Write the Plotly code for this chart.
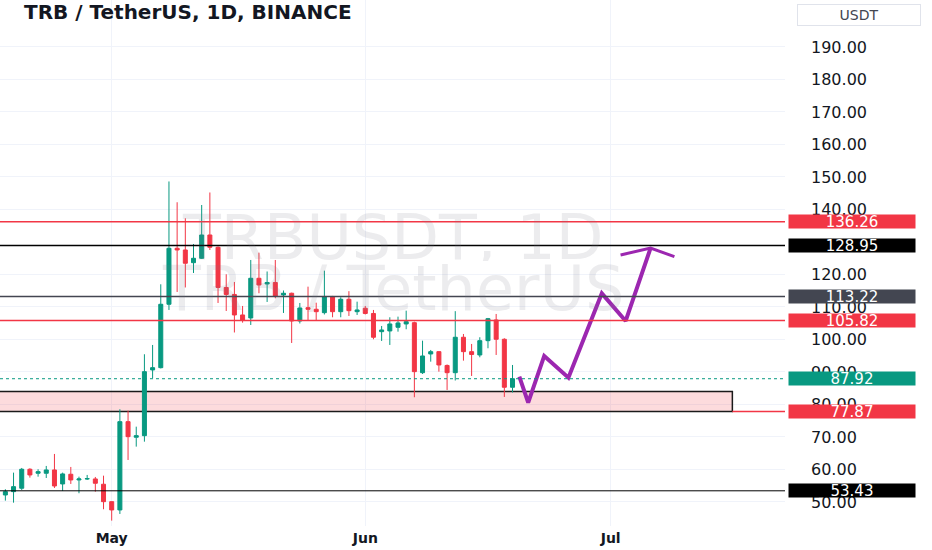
import pandas as pd
import plotly.graph_objects as go

# ---- data ----
dates = pd.date_range("2024-04-18", periods=63, freq="D")
opens = [52.15, 53.17, 54.22, 60.06, 58.83, 58.83, 59.85, 55.54, 58.52, 56.77,
         57.08, 57.08, 55.45, 50.09, 47.54, 74.71, 69.91, 70.40, 90.62, 91.32,
         110.83, 128.06, 127.54, 123.63, 124.98, 132.15, 128.37, 116.00, 113.85, 107.54,
         106.62, 118.83, 117.08, 117.54, 113.69, 114.22, 105.69, 109.78, 109.29, 108.25,
         113.23, 108.55, 112.37, 108.55, 109.60, 108.00, 102.40, 102.62, 103.75, 104.77,
         105.17, 89.78, 95.54, 96.25, 92.00, 89.78, 100.68, 96.25, 95.23, 99.63,
         106.00, 100.06, 85.29]
highs = [53.91, 59.02, 60.46, 60.37, 60.06, 61.08, 64.77, 59.02, 60.77, 57.78,
         58.31, 57.69, 58.09, 50.15, 78.52, 78.09, 73.17, 95.45, 98.31, 116.98,
         148.62, 142.22, 137.29, 129.38, 141.38, 145.23, 128.62, 120.06, 117.69, 110.31,
         124.46, 126.71, 120.92, 124.46, 115.08, 114.40, 111.23, 116.25, 111.32, 121.17,
         113.40, 112.98, 114.86, 111.63, 110.31, 109.08, 104.15, 106.83, 107.02, 108.86,
         105.48, 99.63, 96.77, 96.37, 92.31, 108.71, 101.69, 98.62, 100.68, 106.62,
         107.85, 100.37, 92.15]
lows = [50.40, 49.78, 53.69, 57.48, 57.78, 57.38, 54.31, 53.38, 55.54, 52.68,
        56.77, 53.17, 47.75, 44.25, 46.31, 62.92, 67.02, 68.55, 88.06, 91.08,
        109.08, 114.62, 116.00, 120.46, 124.77, 127.54, 111.23, 108.77, 102.15, 105.17,
        104.46, 114.22, 111.54, 112.68, 108.15, 98.92, 104.92, 106.00, 106.00, 107.69,
        106.83, 106.83, 107.23, 107.54, 107.69, 100.06, 99.54, 98.31, 102.40, 103.14,
        82.22, 89.38, 93.17, 90.09, 84.46, 87.38, 93.48, 88.77, 94.52, 97.29,
        95.23, 82.31, 83.69]
closes = [53.17, 54.71, 60.06, 58.31, 59.32, 59.85, 54.92, 58.62, 56.77, 57.08,
          57.17, 55.75, 50.09, 47.54, 74.71, 70.09, 70.40, 90.09, 91.32, 110.83,
          128.06, 127.54, 123.45, 124.98, 132.15, 128.37, 116.00, 113.85, 107.54, 106.00,
          118.83, 116.77, 117.54, 113.38, 114.22, 105.69, 109.69, 109.29, 108.55, 113.23,
          108.55, 112.37, 108.86, 109.08, 108.00, 100.68, 102.92, 104.77, 105.08, 105.48,
          90.09, 94.92, 96.25, 92.15, 89.78, 100.68, 96.25, 95.38, 99.63, 106.40,
          100.06, 85.29, 87.92]

# horizontal levels: value, line colour, label colour
levels = [136.26, 128.95, 113.22, 105.82, 53.43]
level_colors = ["#F23645", "#000000", "#434651", "#F23645", "#000000"]
last_price = 87.92
zone_low, zone_high = 77.87, 84.0
zone_start, zone_end = "2024-04-10", "2024-07-15 21:00"

# projected path drawing
path_x = ["2024-06-19 20:00", "2024-06-20 22:00", "2024-06-22 21:00", "2024-06-25 20:00",
          "2024-06-29 22:00", "2024-07-02 20:00", "2024-07-05 21:00"]
path_y = [88.55, 80.55, 94.92, 88.25, 114.2, 105.7, 128.1]
arrow_x = ["2024-07-02 05:00", "2024-07-05 21:00", "2024-07-08 19:00"]
arrow_y = [126.0, 128.1, 125.5]

# price-scale ticks (130.00 is hidden behind the 128.95 label in the reference)
y_ticks = [50, 60, 70, 80, 90, 100, 110, 120, 140, 150, 160, 170, 180, 190]

GREEN = "#089981"
RED = "#F23645"
TXT = "#131722"
FONT = "DejaVu Sans"
WM = "rgba(120,123,134,0.14)"

fig = go.Figure()
fig.add_trace(go.Candlestick(
    x=dates, open=opens, high=highs, low=lows, close=closes,
    increasing=dict(line=dict(color=GREEN, width=1), fillcolor=GREEN),
    decreasing=dict(line=dict(color=RED, width=1), fillcolor=RED),
    whiskerwidth=0, showlegend=False, hoverinfo="skip"))
fig.add_trace(go.Scatter(x=path_x, y=path_y, mode="lines",
                         line=dict(color="#9C27B0", width=4), showlegend=False, hoverinfo="skip"))
fig.add_trace(go.Scatter(x=arrow_x, y=arrow_y, mode="lines",
                         line=dict(color="#9C27B0", width=3), showlegend=False, hoverinfo="skip"))

shapes = []
# support zone
shapes.append(dict(type="rect", xref="x", yref="y", x0=zone_start, x1=zone_end,
                   y0=zone_low, y1=zone_high, fillcolor="rgba(242,54,69,0.18)",
                   line=dict(color="#1a1a1a", width=1.5), layer="between"))
shapes.append(dict(type="line", xref="x", yref="y", x0=zone_end, x1="2024-08-30",
                   y0=zone_low, y1=zone_low, line=dict(color=RED, width=1.5), layer="above"))
for v, c in zip(levels, level_colors):
    shapes.append(dict(type="line", xref="paper", yref="y", x0=0, x1=1, y0=v, y1=v,
                       line=dict(color=c, width=1.5 if v != 53.43 else 1), layer="above"))
shapes.append(dict(type="line", xref="paper", yref="y", x0=0, x1=1, y0=last_price, y1=last_price,
                   line=dict(color=GREEN, width=1, dash="dot"), layer="above"))

annotations = []
# watermark
annotations.append(dict(text="TRBUSDT, 1D", xref="paper", yref="paper", x=0.5, y=0.549,
                        showarrow=False, height=48, valign="middle",
                        font=dict(family=FONT, size=62, color=WM)))
annotations.append(dict(text="TRB / TetherUS", xref="paper", yref="paper", x=0.5, y=0.452,
                        showarrow=False, height=48, valign="middle",
                        font=dict(family=FONT, size=62, color=WM)))
# title
annotations.append(dict(text="TRB / TetherUS, 1D, BINANCE", xref="paper", yref="paper",
                        x=22 / 785, y=1 - 12 / 526, xanchor="left", yanchor="middle", showarrow=False,
                        font=dict(family=FONT, size=20, color=TXT, weight="bold")))
# currency box
annotations.append(dict(text="USDT", xref="paper", yref="paper", x=(797) / 785, y=1 - 15 / 526,
                        xanchor="left", yanchor="middle", showarrow=False, width=120, height=18,
                        bgcolor="white", bordercolor="#e0e3eb", borderwidth=1,
                        font=dict(family=FONT, size=14, color="#434651")))
# price labels
label_vals = levels + [last_price, zone_low]
label_cols = level_colors + [GREEN, RED]
for v, c in zip(label_vals, label_cols):
    annotations.append(dict(text=f"{v:.2f}", xref="paper", yref="y", x=788 / 785, y=v,
                            xanchor="left", yanchor="middle", showarrow=False, width=126, height=13,
                            bgcolor=c, borderpad=0, font=dict(family=FONT, size=15, color="white")))

x_start = pd.Timestamp("2024-05-01") + pd.Timedelta(days=-111.7 / 8.18)
x_end = pd.Timestamp("2024-05-01") + pd.Timedelta(days=(785 - 111.7) / 8.18)

fig.update_layout(
    width=932, height=550,
    margin=dict(l=0, r=147, t=0, b=24),
    paper_bgcolor="white", plot_bgcolor="white",
    shapes=shapes, annotations=annotations,
    showlegend=False,
    xaxis=dict(type="date", range=[x_start, x_end], rangeslider=dict(visible=False),
               dtick="M1", tick0="2024-05-01", tickformat="%b",
               showgrid=True, gridcolor="#f0f3fa", gridwidth=1, zeroline=False,
               showline=False, ticks="", ticklabelstandoff=2,
               tickfont=dict(family=FONT, size=14, color=TXT, weight="bold")),
    yaxis=dict(side="right", range=[42.6, 204.46], tickvals=y_ticks,
               ticktext=[f"{v:.2f}" for v in y_ticks],
               showgrid=True, gridcolor="#f0f3fa", zeroline=False, showline=False,
               ticks="", ticklabelstandoff=25,
               tickfont=dict(family=FONT, size=16, color=TXT)),
)

fig.write_html("out.html", config={"displayModeBar": False},
               post_script="document.body.style.margin='0';document.body.style.overflow='hidden';")
